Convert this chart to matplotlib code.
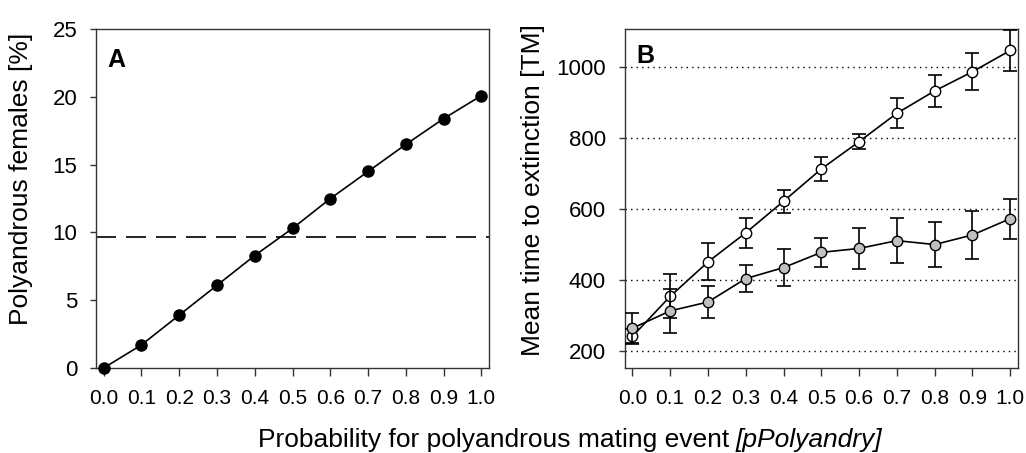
import numpy as np
import matplotlib
matplotlib.use('Agg')
import matplotlib.pyplot as plt

plt.rcParams['font.family'] = ['Liberation Sans', 'DejaVu Sans']

# data
p_poly = [0.0, 0.1, 0.2, 0.3, 0.4, 0.5, 0.6, 0.7, 0.8, 0.9, 1.0]
poly_females = [0.0, 1.7, 3.9, 6.1, 8.3, 10.3, 12.5, 14.5, 16.5, 18.4, 20.1]
ref_level = 9.7

tte_open = [241, 354, 451, 533, 622, 713, 790, 870, 933, 987, 1047]
tte_open_err = [20, 62, 52, 42, 32, 35, 22, 42, 46, 52, 59]
tte_grey = [264, 313, 338, 404, 435, 478, 489, 511, 500, 527, 573]
tte_grey_err = [42, 62, 46, 38, 52, 40, 57, 63, 63, 68, 56]

xticks = [0.0, 0.1, 0.2, 0.3, 0.4, 0.5, 0.6, 0.7, 0.8, 0.9, 1.0]
xticklabels = ['0.0', '0.1', '0.2', '0.3', '0.4', '0.5', '0.6', '0.7', '0.8', '0.9', '1.0']

W, H = 1026, 453
fig = plt.figure(figsize=(W / 100, H / 100), dpi=100)
axA = fig.add_axes([0.0936, 0.1876, 0.383, 0.748])
axB = fig.add_axes([0.609, 0.1876, 0.383, 0.748])

spine_col = '#333333'

for ax in (axA, axB):
    for s in ax.spines.values():
        s.set_color(spine_col)
        s.set_linewidth(1.0)
    ax.tick_params(direction='out', width=1.0, color=spine_col, top=False, right=False)
    ax.tick_params(axis='x', length=6, pad=9, labelsize=15)
    ax.tick_params(axis='y', length=4.5, pad=9, labelsize=16)
    ax.set_xlim(-0.02, 1.02)
    ax.set_xticks(xticks)
    ax.set_xticklabels(xticklabels)

# panel A
axA.axhline(ref_level, color='black', lw=1.2, dashes=(12, 6))
axA.plot(p_poly, poly_females, '-o', color='black', lw=1.2,
         markersize=8, markerfacecolor='black', markeredgecolor='black', clip_on=False, zorder=3)
axA.set_ylim(0, 25)
axA.set_yticks([0, 5, 10, 15, 20, 25])
axA.set_ylabel('Polyandrous females [%]', fontsize=19)
axA.yaxis.set_label_coords(-0.160, 0.557)
axA.text(0.03, 0.945, 'A', transform=axA.transAxes, fontsize=18, fontweight='bold', va='top')

# panel B
for yv in [200, 400, 600, 800, 1000]:
    axB.axhline(yv, color='black', lw=1.0, ls=(0, (1, 3)), zorder=0)
axB.errorbar(p_poly, tte_open, yerr=tte_open_err, fmt='-o', color='black', lw=1.2,
             elinewidth=1.2, capsize=5, capthick=1.2, markersize=7.5,
             markerfacecolor='white', markeredgecolor='black', zorder=3)
axB.errorbar(p_poly, tte_grey, yerr=tte_grey_err, fmt='-o', color='black', lw=1.2,
             elinewidth=1.2, capsize=5, capthick=1.2, markersize=7.5,
             markerfacecolor='#c0c0c0', markeredgecolor='black', zorder=4)
axB.set_ylim(152, 1107)
axB.set_yticks([200, 400, 600, 800, 1000])
axB.set_ylabel('Mean time to extinction [TM]', fontsize=19)
axB.yaxis.set_label_coords(-0.2036, 0.525)
axB.text(0.03, 0.955, 'B', transform=axB.transAxes, fontsize=18, fontweight='bold', va='top')

# common x label: upright part + italic part, centred together
base_y = 1 - 447 / H
t1 = fig.text(0, base_y, 'Probability for polyandrous mating event', fontsize=19,
              ha='left', va='baseline')
t2 = fig.text(0, base_y, '[pPolyandry]', fontsize=19, fontstyle='italic',
              ha='left', va='baseline')
fig.canvas.draw()
r = fig.canvas.get_renderer()
w1 = t1.get_window_extent(r).width
w2 = t2.get_window_extent(r).width
gap = 7
x0 = 570 - (w1 + gap + w2) / 2
t1.set_x(x0 / W)
t2.set_x((x0 + w1 + gap) / W)

fig.savefig('out.png', dpi=100)
